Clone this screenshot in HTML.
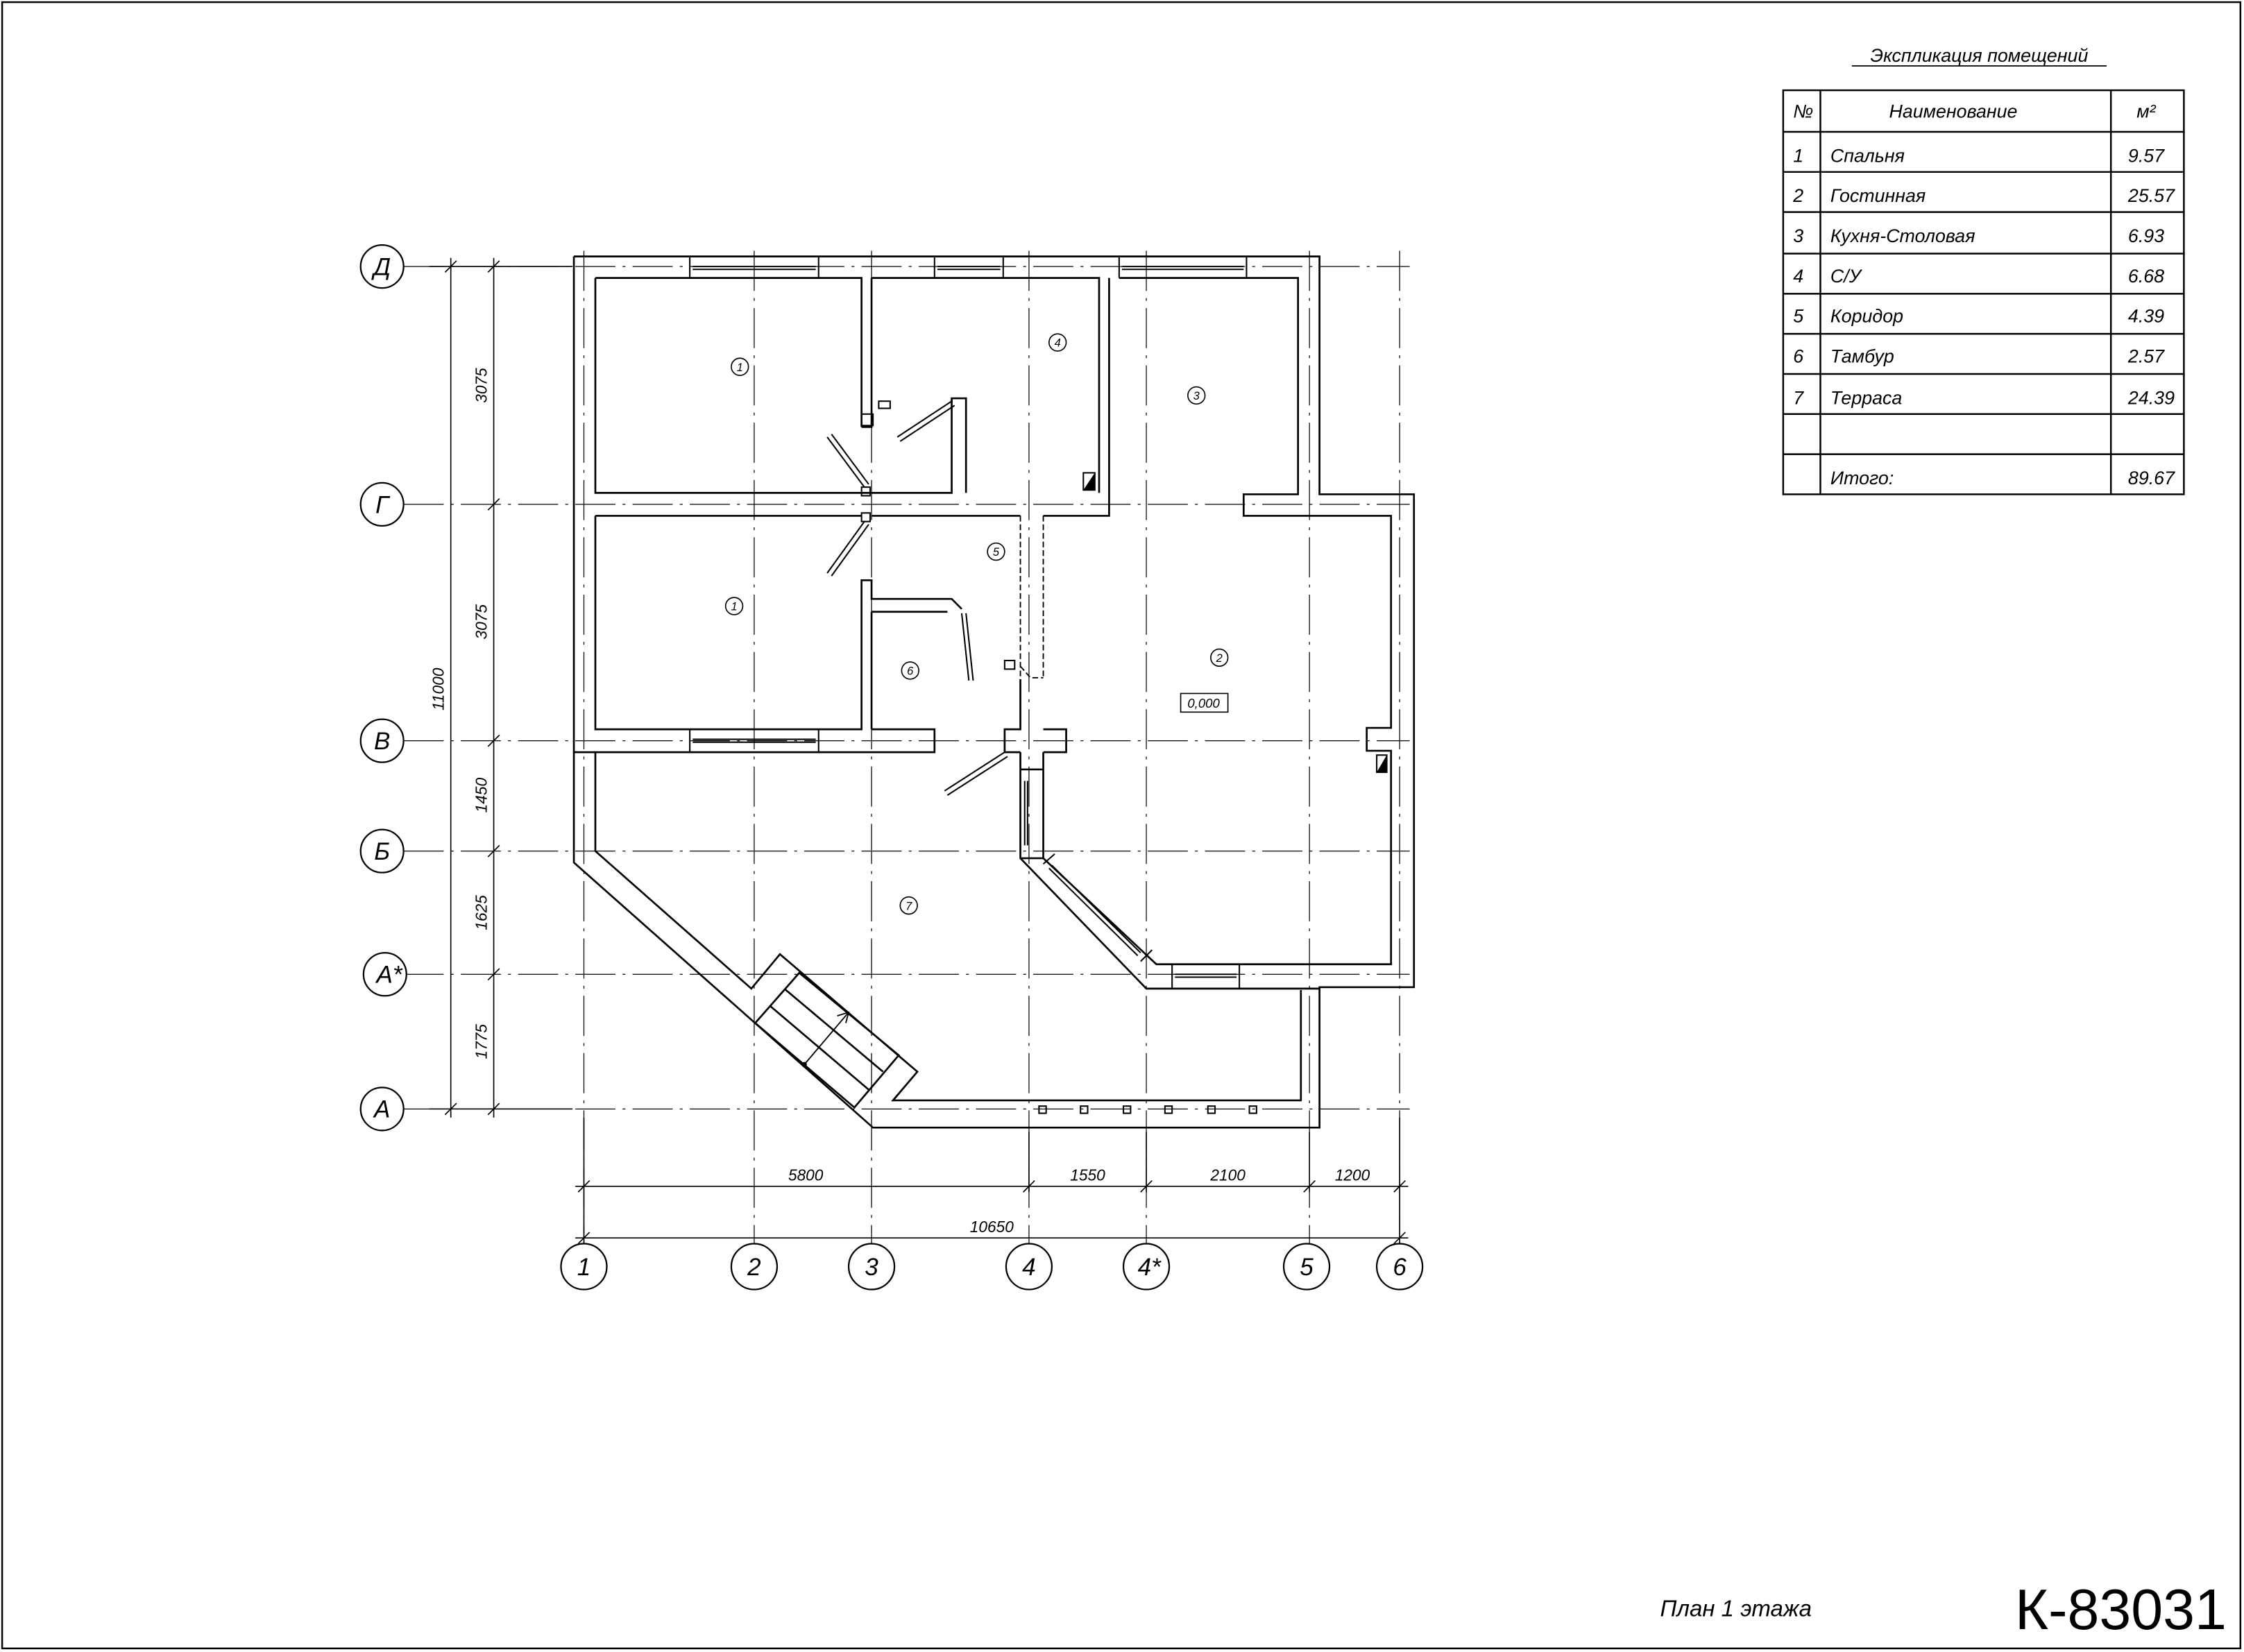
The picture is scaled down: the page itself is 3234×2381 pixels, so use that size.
<!DOCTYPE html>
<html><head><meta charset="utf-8"><style>
html,body{margin:0;padding:0;background:#fff}
svg{display:block}
text{font-family:"Liberation Sans","DejaVu Sans",sans-serif;font-style:italic;fill:#000}
</style></head><body>
<svg width="3234" height="2381" viewBox="0 0 1568 1153" preserveAspectRatio="none" xmlns="http://www.w3.org/2000/svg">
<rect x="1.5" y="1.5" width="1564" height="1149" fill="none" stroke="#000" stroke-width="1.2"/>
<g stroke="#000" stroke-width="0.6" stroke-dasharray="28,5,2,5" fill="none">
<line x1="408" y1="175" x2="408" y2="868"/><line x1="527" y1="175" x2="527" y2="868"/>
<line x1="609" y1="175" x2="609" y2="868"/><line x1="719" y1="175" x2="719" y2="868"/>
<line x1="801" y1="175" x2="801" y2="868"/><line x1="915" y1="175" x2="915" y2="868"/>
<line x1="978" y1="175" x2="978" y2="868"/>
<line x1="282" y1="186" x2="985" y2="186"/><line x1="282" y1="352" x2="985" y2="352"/>
<line x1="282" y1="517" x2="985" y2="517"/><line x1="282" y1="594" x2="985" y2="594"/>
<line x1="282" y1="680" x2="985" y2="680"/><line x1="282" y1="774" x2="985" y2="774"/>
</g>
<g stroke="#000" stroke-width="1.3" fill="none">
<path d="M401,179 H922 V345 H988 V689 H922 V787 H610 L514,702 L401,602 V179"/>
<path d="M416,194 H602 V298 M609,194 V298 H602 M609,194 H768 V344 M775,194 V360 H729 M782,194 H907 V345 H869 V360 H972 V508 H955 V524 H972 V673 H808 L729,599 V537 M713,537 V599 L801,690 H922"/>
<path d="M416,194 V344 H665 V278 H675 V344 M416,360 H602 M609,360 H713"/>
<path d="M416,360 V509 H602 V405 H609 V418 H665 L672,425 M609,427 V509 M609,509 H653 V525 H416 V594 L525,690 L545,666 L641,748 L624,768 H909 V691"/>
<path d="M609,427 H662"/>
<path d="M401,525 H416"/>
<path d="M713,474 V509 H702 V525 H713 M729,509 H745 V525 H729 M713,525 V537 M729,525 V537 M713,537 H729 M713,599 H729"/>
<path d="M558.5,679 L628,736.5 L597,773 L527.7,714 Z M548,690 L617,748 M538,702 L607,760.5"/>
<path d="M562,743 L593,706.5 M585,709 L593,706.5 L591,714" stroke-width="0.9"/>
</g>
<circle cx="562" cy="743" r="1.8" fill="#000"/>
<g stroke="#000" stroke-width="0.9" stroke-dasharray="4,2" fill="none">
<line x1="713" y1="360" x2="713" y2="474"/><line x1="729" y1="360" x2="729" y2="474"/>
<path d="M713,465 L720,473 H729"/>
</g>
<g stroke="#000" stroke-width="1" fill="none">
<path d="M482,179 V194 M572,179 V194 M484,186 H570 M484,188 H570"/>
<path d="M653,179 V194 M701,179 V194 M655,186 H699 M655,188 H699"/>
<path d="M782,179 V194 M871,179 V194 M784,186 H869 M784,188 H869"/>
<path d="M482,509 V525 M572,509 V525 M484,516 H570 M484,518 H570"/>
<path d="M819,673 V690 M866,673 V690 M821,680 H864 M821,682 H864"/>
<path d="M716,545 V590 M718,545 V590"/>
<path d="M735,604 L797,665 M733,606 L795,667 M729,603 L737,596 M797,671 L805,663"/>
</g>
<g stroke="#000" stroke-width="1" fill="none">
<path d="M578,305 L604,340 M581,303 L607,338"/>
<path d="M578,400 L604,364 M581,402 L607,366"/>
<path d="M627,305 L665,280 M629,308 L667,283"/>
<path d="M672,428 L677,475 M675,428 L680,475"/>
<path d="M660,552 L702,525 M662,555 L704,528"/>
<rect x="602" y="340" width="6" height="6"/><rect x="602" y="358" width="6" height="6"/>
<rect x="602" y="289" width="8" height="8"/><rect x="614" y="280" width="8" height="5"/>
<rect x="702" y="461" width="7" height="6"/>
<rect x="757" y="330" width="8" height="12"/><rect x="962" y="527" width="7" height="12"/>
</g>
<path d="M757,342 L765,330 V342 Z M962,539 L969,527 V539 Z" fill="#000"/>
<g stroke="#000" stroke-width="1" fill="none">
<rect x="726" y="772" width="5" height="5"/><rect x="755" y="772" width="5" height="5"/>
<rect x="785" y="772" width="5" height="5"/><rect x="814" y="772" width="5" height="5"/>
<rect x="844" y="772" width="5" height="5"/><rect x="873" y="772" width="5" height="5"/>
</g>
<g stroke="#000" stroke-width="0.8" fill="none">
<circle cx="517" cy="256" r="6"/><circle cx="513" cy="423" r="6"/><circle cx="739" cy="239" r="6"/>
<circle cx="836" cy="276" r="6"/><circle cx="696" cy="385" r="6"/><circle cx="636" cy="468" r="6"/>
<circle cx="852" cy="459" r="6"/><circle cx="635" cy="632" r="6"/>
<rect x="825" y="484" width="33" height="13"/>
</g>
<g font-size="8" text-anchor="middle">
<text x="517" y="259">1</text><text x="513" y="426">1</text><text x="739" y="242">4</text>
<text x="836" y="279">3</text><text x="696" y="388">5</text><text x="636" y="471">6</text>
<text x="852" y="462">2</text><text x="635" y="635">7</text><text x="841" y="494" font-size="9">0,000</text>
</g>
<g stroke="#000" stroke-width="0.8" fill="none">
<line x1="315" y1="180" x2="315" y2="780"/><line x1="345" y1="180" x2="345" y2="780"/>
<line x1="300" y1="186" x2="400" y2="186"/><line x1="300" y1="774" x2="400" y2="774"/>
<path d="M311,190 L319,182 M311,778 L319,770 M341,190 L349,182 M341,356 L349,348 M341,521 L349,513 M341,598 L349,590 M341,684 L349,676 M341,778 L349,770"/>
<line x1="402" y1="828" x2="984" y2="828"/><line x1="402" y1="864" x2="984" y2="864"/>
<path d="M408,780 V870 M978,780 V870 M719,790 V832 M801,790 V832 M915,790 V832"/>
<path d="M404,832 L412,824 M715,832 L723,824 M797,832 L805,824 M911,832 L919,824 M974,832 L982,824 M404,868 L412,860 M974,868 L982,860"/>
</g>
<g font-size="11" text-anchor="middle">
<text transform="translate(340,269) rotate(-90)">3075</text>
<text transform="translate(340,434) rotate(-90)">3075</text>
<text transform="translate(340,555) rotate(-90)">1450</text>
<text transform="translate(340,637) rotate(-90)">1625</text>
<text transform="translate(340,727) rotate(-90)">1775</text>
<text transform="translate(310,481) rotate(-90)">11000</text>
<text x="563" y="824">5800</text><text x="760" y="824">1550</text><text x="858" y="824">2100</text>
<text x="945" y="824">1200</text><text x="693" y="860">10650</text>
</g>
<g stroke="#000" stroke-width="1.1" fill="#fff">
<circle cx="267" cy="186" r="15"/><circle cx="267" cy="352" r="15"/><circle cx="267" cy="517" r="15"/>
<circle cx="267" cy="594" r="15"/><circle cx="269" cy="680" r="15"/><circle cx="267" cy="774" r="15"/>
<circle cx="408" cy="884" r="16"/><circle cx="527" cy="884" r="16"/><circle cx="609" cy="884" r="16"/>
<circle cx="719" cy="884" r="16"/><circle cx="801" cy="884" r="16"/><circle cx="913" cy="884" r="16"/>
<circle cx="978" cy="884" r="16"/>
</g>
<g font-size="17" text-anchor="middle">
<text x="267" y="192">Д</text><text x="267" y="358">Г</text><text x="267" y="523">В</text>
<text x="267" y="600">Б</text><text x="272" y="686">А*</text><text x="267" y="780">А</text>
<text x="408" y="890">1</text><text x="527" y="890">2</text><text x="609" y="890">3</text>
<text x="719" y="890">4</text><text x="803" y="890">4*</text><text x="913" y="890">5</text><text x="978" y="890">6</text>
</g>
<text x="1383" y="43" font-size="13" text-anchor="middle">Экспликация помещений</text>
<line x1="1294" y1="46" x2="1472" y2="46" stroke="#000" stroke-width="0.8"/>
<g stroke="#000" stroke-width="1.2" fill="none">
<rect x="1246" y="63" width="280" height="282"/>
<path d="M1272,63 V345 M1475,63 V345 M1246,92 H1526 M1246,120 H1526 M1246,148 H1526 M1246,177 H1526 M1246,205 H1526 M1246,233 H1526 M1246,261 H1526 M1246,289 H1526 M1246,317 H1526"/>
</g>
<g font-size="13">
<text x="1253" y="82">№</text><text x="1320" y="82">Наименование</text><text x="1493" y="82">м²</text>
<text x="1253" y="113">1</text><text x="1279" y="113">Спальня</text><text x="1487" y="113">9.57</text>
<text x="1253" y="141">2</text><text x="1279" y="141">Гостинная</text><text x="1487" y="141">25.57</text>
<text x="1253" y="169">3</text><text x="1279" y="169">Кухня-Столовая</text><text x="1487" y="169">6.93</text>
<text x="1253" y="197">4</text><text x="1279" y="197">С/У</text><text x="1487" y="197">6.68</text>
<text x="1253" y="225">5</text><text x="1279" y="225">Коридор</text><text x="1487" y="225">4.39</text>
<text x="1253" y="253">6</text><text x="1279" y="253">Тамбур</text><text x="1487" y="253">2.57</text>
<text x="1253" y="282">7</text><text x="1279" y="282">Терраса</text><text x="1487" y="282">24.39</text>
<text x="1279" y="338">Итого:</text><text x="1487" y="338">89.67</text>
</g>
<text x="1160" y="1128" font-size="16">План 1 этажа</text>
<text x="1408" y="1137" font-size="40" style="font-style:normal">К-83031</text>
</svg>
</body></html>
